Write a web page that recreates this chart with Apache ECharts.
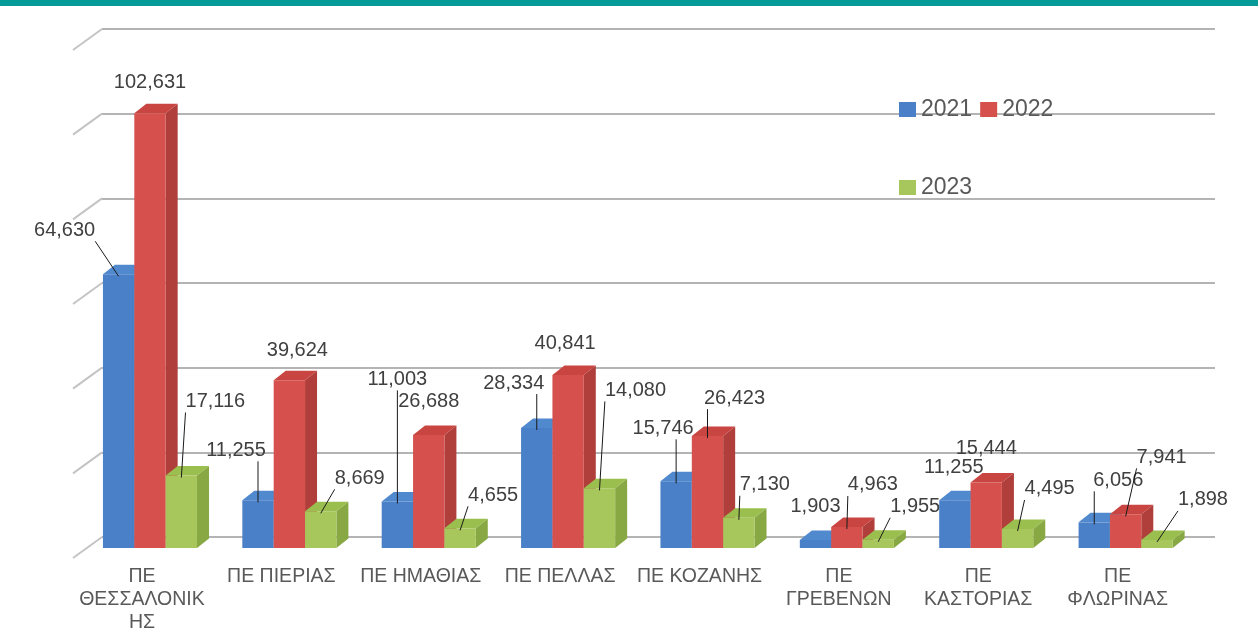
<!DOCTYPE html>
<html>
<head>
<meta charset="utf-8">
<script src="https://cdn.jsdelivr.net/npm/echarts@6/dist/echarts.min.js"></script>
<style>
html,body{margin:0;padding:0;background:#fff}
#chart{width:1258px;height:641px}
</style>
</head>
<body>
<div id="chart"></div>
<script>
var categories = ['ΠΕ\nΘΕΣΣΑΛΟΝΙΚ\nΗΣ', 'ΠΕ ΠΙΕΡΙΑΣ', 'ΠΕ ΗΜΑΘΙΑΣ', 'ΠΕ ΠΕΛΛΑΣ', 'ΠΕ ΚΟΖΑΝΗΣ', 'ΠΕ\nΓΡΕΒΕΝΩΝ', 'ΠΕ\nΚΑΣΤΟΡΙΑΣ', 'ΠΕ\nΦΛΩΡΙΝΑΣ'];
var years = ['2021', '2022', '2023'];
var values2021 = [64630, 11255, 11003, 28334, 15746, 1903, 11255, 6056];
var values2022 = [102631, 39624, 26688, 40841, 26423, 4963, 15444, 7941];
var values2023 = [17116, 8669, 4655, 14080, 7130, 1955, 4495, 1898];
var axisTicks = [0, 20000, 40000, 60000, 80000, 100000, 120000];

// label place, from the top centre of the bar front: [dx, dy, leader line]
var labelPos2021 = [[-54,-44,1],[-22,-50,1],[0,-122,1],[-23,-45,1],[-13,-53,1],[0,-33,0],[-1,-33,0],[24,-42,1]];
var labelPos2022 = [[0,-31,0],[8,-30,0],[0,-33,0],[-3,-32,0],[27,-38,1],[26,-42,1],[0,-34,0],[36,-57,1]];
var labelPos2023 = [[34,-74,1],[39,-33,1],[33,-33,1],[36,-98,1],[26,-33,1],[37,-33,1],[32,-40,1],[46,-40,1]];

var FONT = '"Liberation Sans", Arial, sans-serif';
var DX = 12, DY = 9.5; // depth of the 3d bars
var colors = [
	{front:'#4a80c8', top:'#5189cf', side:'#3d6dab'},
	{front:'#d6514d', top:'#c94541', side:'#b03f3b'},
	{front:'#a7c65c', top:'#9bbf4e', side:'#87a843'}
];

var measureCtx = document.createElement('canvas').getContext('2d');
measureCtx.font = '20px ' + FONT;

function fmt(v){
	return v.toLocaleString('en-US');
}

function barItem(idx, labelPos){
	return function(params, api){
		var i = api.value(0), v = api.value(1);
		var top = api.coord([i, v]), base = api.coord([i, 0]);
		var band = api.size([1, 0])[0];
		var w = band * 0.675 / 3;
		var x0 = top[0] - 1.5 * w + idx * w, x1 = x0 + w;
		var ty = top[1], by = base[1];
		var c = colors[idx];
		var children = [
			{type:'polygon', shape:{points:[[x0,ty],[x0+DX,ty-DY],[x1+DX,ty-DY],[x1,ty]]}, style:{fill:c.top}},
			{type:'polygon', shape:{points:[[x1,ty],[x1+DX,ty-DY],[x1+DX,by-DY],[x1,by]]}, style:{fill:c.side}},
			{type:'rect', shape:{x:x0, y:ty, width:w, height:by-ty}, style:{fill:c.front}}
		];
		var lp = labelPos[params.dataIndex];
		var cx = (x0 + x1) / 2;
		var lx = cx + lp[0], ly = ty + lp[1];
		var txt = fmt(v);
		children.push({type:'text', x:lx, y:ly, z2:100,
			style:{text:txt, font:'20px ' + FONT, fill:'#404040', align:'center', verticalAlign:'middle'}});
		if(lp[2]){
			var tw = measureCtx.measureText(txt).width;
			var sx = Math.min(Math.max(cx, lx - tw/2), lx + tw/2);
			children.push({type:'line', z2:100, shape:{x1:sx, y1:ly+11, x2:cx, y2:ty+2},
				style:{stroke:'#1a1a1a', lineWidth:1}});
		}
		return {type:'group', children:children};
	};
}

function toData(arr){
	var d = [];
	for(var i = 0; i < arr.length; i ++){
		d.push([i, arr[i]]);
	}
	return d;
}

var chart = echarts.init(document.getElementById('chart'), null, {renderer:'canvas'});
var legendBase = {
	icon:'rect', itemWidth:17, itemHeight:15, itemGap:8, left:894,
	textStyle:{fontSize:23, color:'#595959', fontFamily:FONT}
};
var option = {
	animation:false,
	backgroundColor:'#fff',
	graphic:[{type:'rect', shape:{x:0, y:0, width:1258, height:6}, style:{fill:'#069a98'}}],
	legend:[
		echarts.util.extend({data:['2021','2022'], top:93}, legendBase),
		echarts.util.extend({data:['2023'], top:171}, legendBase)
	],
	grid:[
		{left:102, right:43, top:29, bottom:104},            // back wall
		{left:80.3, right:62.7, top:39.8, bottom:93}         // bar fronts
	],
	xAxis:[
		{type:'value', gridIndex:0, min:0, max:1, show:false},
		{type:'category', gridIndex:1, data:categories,
			axisLine:{show:false}, axisTick:{show:false}, splitLine:{show:false},
			axisLabel:{interval:0, margin:17, fontSize:19.5, lineHeight:23, color:'#595959',
				fontFamily:FONT, padding:[0,16,0,0]}}
	],
	yAxis:[
		{type:'value', gridIndex:0, min:0, max:120000, interval:20000,
			axisLabel:{show:false}, axisLine:{show:false}, axisTick:{show:false},
			splitLine:{lineStyle:{color:'#b4b4b4', width:2}}},
		{type:'value', gridIndex:1, min:0, max:120000, interval:20000, show:false,
			splitLine:{show:false}}
	],
	series:[
		{type:'custom', name:'walls', xAxisIndex:0, yAxisIndex:0, z:1, silent:true,
			data:axisTicks.map(function(t){ return [0, t]; }),
			renderItem:function(params, api){
				var p = api.coord([0, api.value(1)]);
				return {type:'line', shape:{x1:p[0], y1:p[1], x2:p[0]-29, y2:p[1]+21},
					style:{stroke:'#c4c4c4', lineWidth:2}};
			}},
		{type:'custom', name:years[0], xAxisIndex:1, yAxisIndex:1, itemStyle:{color:colors[0].front},
			data:toData(values2021), encode:{x:0, y:1}, renderItem:barItem(0, labelPos2021)},
		{type:'custom', name:years[1], xAxisIndex:1, yAxisIndex:1, itemStyle:{color:colors[1].front},
			data:toData(values2022), encode:{x:0, y:1}, renderItem:barItem(1, labelPos2022)},
		{type:'custom', name:years[2], xAxisIndex:1, yAxisIndex:1, itemStyle:{color:colors[2].front},
			data:toData(values2023), encode:{x:0, y:1}, renderItem:barItem(2, labelPos2023)}
	]
};
chart.setOption(option);
</script>
</body>
</html>
